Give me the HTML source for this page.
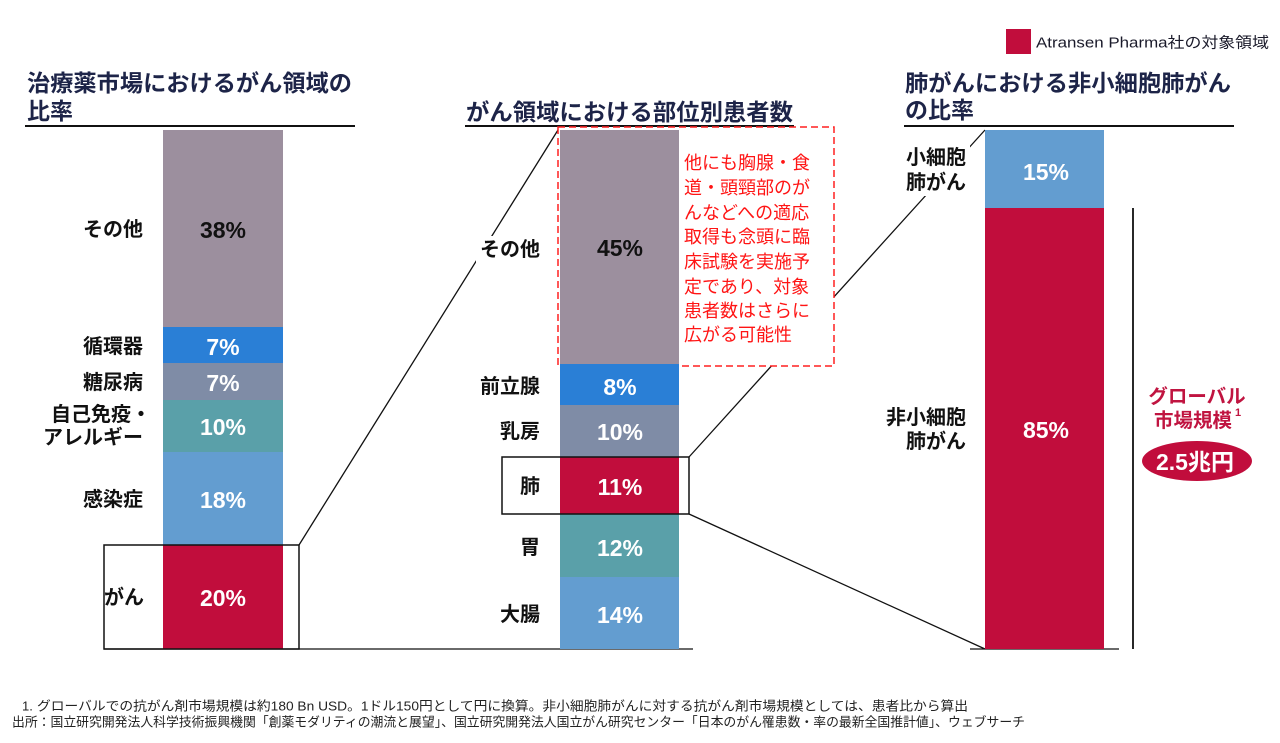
<!DOCTYPE html>
<html><head><meta charset="utf-8">
<style>
html,body{margin:0;padding:0;background:#fff;}
svg{display:block;}
text{font-family:"Liberation Sans","Noto Sans CJK JP",sans-serif;}
.t{font-size:23px;font-weight:bold;fill:#1d2448;}
.lb{font-size:20px;font-weight:bold;fill:#111;}
.pc{font-size:23px;font-weight:bold;fill:#fff;}
.rd{font-size:18px;fill:#ff1414;}
.ft{font-size:13px;fill:#222;}
</style></head>
<body>
<svg width="1280" height="743" viewBox="0 0 1280 743" xmlns="http://www.w3.org/2000/svg">
<rect x="0" y="0" width="1280" height="743" fill="#fff"/>

<!-- legend -->
<rect x="1006" y="29" width="25" height="25" fill="#c10d3c"/>
<text x="1036" y="43" dominant-baseline="central" font-size="15" fill="#1a1a2a" textLength="233" lengthAdjust="spacingAndGlyphs">Atransen Pharma社の対象領域</text>

<!-- titles -->
<text class="t" x="27" y="83" dominant-baseline="central" textLength="325" lengthAdjust="spacingAndGlyphs">治療薬市場におけるがん領域の</text>
<text class="t" x="27" y="111" dominant-baseline="central">比率</text>
<rect x="25" y="125" width="330" height="2" fill="#111"/>

<text class="t" x="466" y="112" dominant-baseline="central" textLength="327" lengthAdjust="spacingAndGlyphs">がん領域における部位別患者数</text>
<rect x="465" y="125" width="329" height="2" fill="#111"/>

<text class="t" x="905" y="83" dominant-baseline="central" textLength="326" lengthAdjust="spacingAndGlyphs">肺がんにおける非小細胞肺がん</text>
<text class="t" x="905" y="110" dominant-baseline="central">の比率</text>
<rect x="904" y="125" width="330" height="2" fill="#111"/>

<!-- connector lines -->
<g stroke="#111" stroke-width="1.3" fill="none">
<line x1="299" y1="545" x2="558" y2="130"/>
<line x1="104" y1="649" x2="693" y2="649"/>
<line x1="689" y1="457" x2="985" y2="130"/>
<line x1="689" y1="514" x2="985" y2="649"/>
<line x1="970" y1="649" x2="1119" y2="649"/>
</g>
<line x1="1133" y1="208" x2="1133" y2="649" stroke="#111" stroke-width="1.8"/>

<!-- dashed box -->
<rect x="558" y="127" width="276" height="239" fill="#fff" stroke="#ff2020" stroke-width="1.5" stroke-dasharray="7,4"/>

<!-- left bar -->
<rect x="163" y="130" width="120" height="197" fill="#9c8f9e"/>
<rect x="163" y="327" width="120" height="36" fill="#2a7fd6"/>
<rect x="163" y="363" width="120" height="37" fill="#7f8ca6"/>
<rect x="163" y="400" width="120" height="52" fill="#5aa0a9"/>
<rect x="163" y="452" width="120" height="93" fill="#639dd0"/>
<rect x="163" y="545" width="120" height="104" fill="#c10d3c"/>
<rect x="104" y="545" width="195" height="104" fill="none" stroke="#111" stroke-width="1.5"/>

<!-- middle bar -->
<rect x="560" y="130" width="119" height="234" fill="#9c8f9e"/>
<rect x="560" y="364" width="119" height="41" fill="#2a7fd6"/>
<rect x="560" y="405" width="119" height="52" fill="#7f8ca6"/>
<rect x="560" y="457" width="119" height="57" fill="#c10d3c"/>
<rect x="560" y="514" width="119" height="63" fill="#5aa0a9"/>
<rect x="560" y="577" width="119" height="72" fill="#639dd0"/>
<rect x="502" y="457" width="187" height="57" fill="none" stroke="#111" stroke-width="1.5"/>

<!-- right bar -->
<rect x="985" y="130" width="119" height="78" fill="#639dd0"/>
<rect x="985" y="208" width="119" height="441" fill="#c10d3c"/>

<!-- label backgrounds to hide lines -->
<rect x="476" y="236" width="66" height="28" fill="#fff"/>
<rect x="900" y="143" width="70" height="53" fill="#fff"/>

<!-- left labels -->
<g class="lb" text-anchor="end" dominant-baseline="central">
<text class="lb" x="143" y="230" text-anchor="end" dominant-baseline="central">その他</text>
<text class="lb" x="143" y="347" text-anchor="end" dominant-baseline="central">循環器</text>
<text class="lb" x="143" y="383" text-anchor="end" dominant-baseline="central">糖尿病</text>
<text class="lb" x="151" y="415" text-anchor="end" dominant-baseline="central">自己免疫・</text>
<text class="lb" x="143" y="438" text-anchor="end" dominant-baseline="central">アレルギー</text>
<text class="lb" x="143" y="500" text-anchor="end" dominant-baseline="central">感染症</text>
<text class="lb" x="144" y="598" text-anchor="end" dominant-baseline="central">がん</text>
</g>
<g text-anchor="middle">
<text class="pc" x="223" y="230" text-anchor="middle" dominant-baseline="central" style="fill:#111">38%</text>
<text class="pc" x="223" y="347" text-anchor="middle" dominant-baseline="central">7%</text>
<text class="pc" x="223" y="383" text-anchor="middle" dominant-baseline="central">7%</text>
<text class="pc" x="223" y="427" text-anchor="middle" dominant-baseline="central">10%</text>
<text class="pc" x="223" y="500" text-anchor="middle" dominant-baseline="central">18%</text>
<text class="pc" x="223" y="598" text-anchor="middle" dominant-baseline="central">20%</text>
</g>

<!-- middle labels -->
<text class="lb" x="540" y="250" text-anchor="end" dominant-baseline="central">その他</text>
<text class="lb" x="540" y="387" text-anchor="end" dominant-baseline="central">前立腺</text>
<text class="lb" x="540" y="432" text-anchor="end" dominant-baseline="central">乳房</text>
<text class="lb" x="540" y="487" text-anchor="end" dominant-baseline="central">肺</text>
<text class="lb" x="540" y="548" text-anchor="end" dominant-baseline="central">胃</text>
<text class="lb" x="540" y="615" text-anchor="end" dominant-baseline="central">大腸</text>

<text class="pc" x="620" y="248" text-anchor="middle" dominant-baseline="central" style="fill:#111">45%</text>
<text class="pc" x="620" y="387" text-anchor="middle" dominant-baseline="central">8%</text>
<text class="pc" x="620" y="432" text-anchor="middle" dominant-baseline="central">10%</text>
<text class="pc" x="620" y="487" text-anchor="middle" dominant-baseline="central">11%</text>
<text class="pc" x="620" y="548" text-anchor="middle" dominant-baseline="central">12%</text>
<text class="pc" x="620" y="615" text-anchor="middle" dominant-baseline="central">14%</text>

<!-- red note -->
<g class="rd">
<text class="rd" x="684" y="163" dominant-baseline="central">他にも胸腺・食</text>
<text class="rd" x="684" y="188" dominant-baseline="central">道・頭頸部のが</text>
<text class="rd" x="684" y="213" dominant-baseline="central">んなどへの適応</text>
<text class="rd" x="684" y="237" dominant-baseline="central">取得も念頭に臨</text>
<text class="rd" x="684" y="262" dominant-baseline="central">床試験を実施予</text>
<text class="rd" x="684" y="287" dominant-baseline="central">定であり、対象</text>
<text class="rd" x="684" y="311" dominant-baseline="central">患者数はさらに</text>
<text class="rd" x="684" y="335" dominant-baseline="central">広がる可能性</text>
</g>

<!-- right labels -->
<text class="lb" x="966" y="158" text-anchor="end" dominant-baseline="central">小細胞</text>
<text class="lb" x="966" y="183" text-anchor="end" dominant-baseline="central">肺がん</text>
<text class="lb" x="966" y="418" text-anchor="end" dominant-baseline="central">非小細胞</text>
<text class="lb" x="966" y="442" text-anchor="end" dominant-baseline="central">肺がん</text>

<text class="pc" x="1046" y="172" text-anchor="middle" dominant-baseline="central">15%</text>
<text class="pc" x="1046" y="430" text-anchor="middle" dominant-baseline="central">85%</text>

<!-- global market -->
<text x="1197" y="397" text-anchor="middle" dominant-baseline="central" font-size="19.5" font-weight="bold" fill="#c01440">グローバル</text>
<text x="1193" y="421" text-anchor="middle" dominant-baseline="central" font-size="19.5" font-weight="bold" fill="#c01440">市場規模</text>
<text x="1235" y="413" dominant-baseline="central" font-size="11" font-weight="bold" fill="#c01440">1</text>
<ellipse cx="1197" cy="461" rx="55" ry="20" fill="#c10d3c"/>
<text x="1195" y="462" text-anchor="middle" dominant-baseline="central" font-size="23" font-weight="bold" fill="#fff">2.5兆円</text>

<!-- footer -->
<text class="ft" x="22" y="706" dominant-baseline="central">1.</text>
<text class="ft" x="37" y="706" dominant-baseline="central" textLength="931" lengthAdjust="spacingAndGlyphs">グローバルでの抗がん剤市場規模は約180 Bn USD。1ドル150円として円に換算。非小細胞肺がんに対する抗がん剤市場規模としては、患者比から算出</text>
<text class="ft" x="12" y="722" dominant-baseline="central" textLength="1013" lengthAdjust="spacingAndGlyphs">出所：国立研究開発法人科学技術振興機関「創薬モダリティの潮流と展望」、国立研究開発法人国立がん研究センター「日本のがん罹患数・率の最新全国推計値」、ウェブサーチ</text>
</svg>
</body></html>
